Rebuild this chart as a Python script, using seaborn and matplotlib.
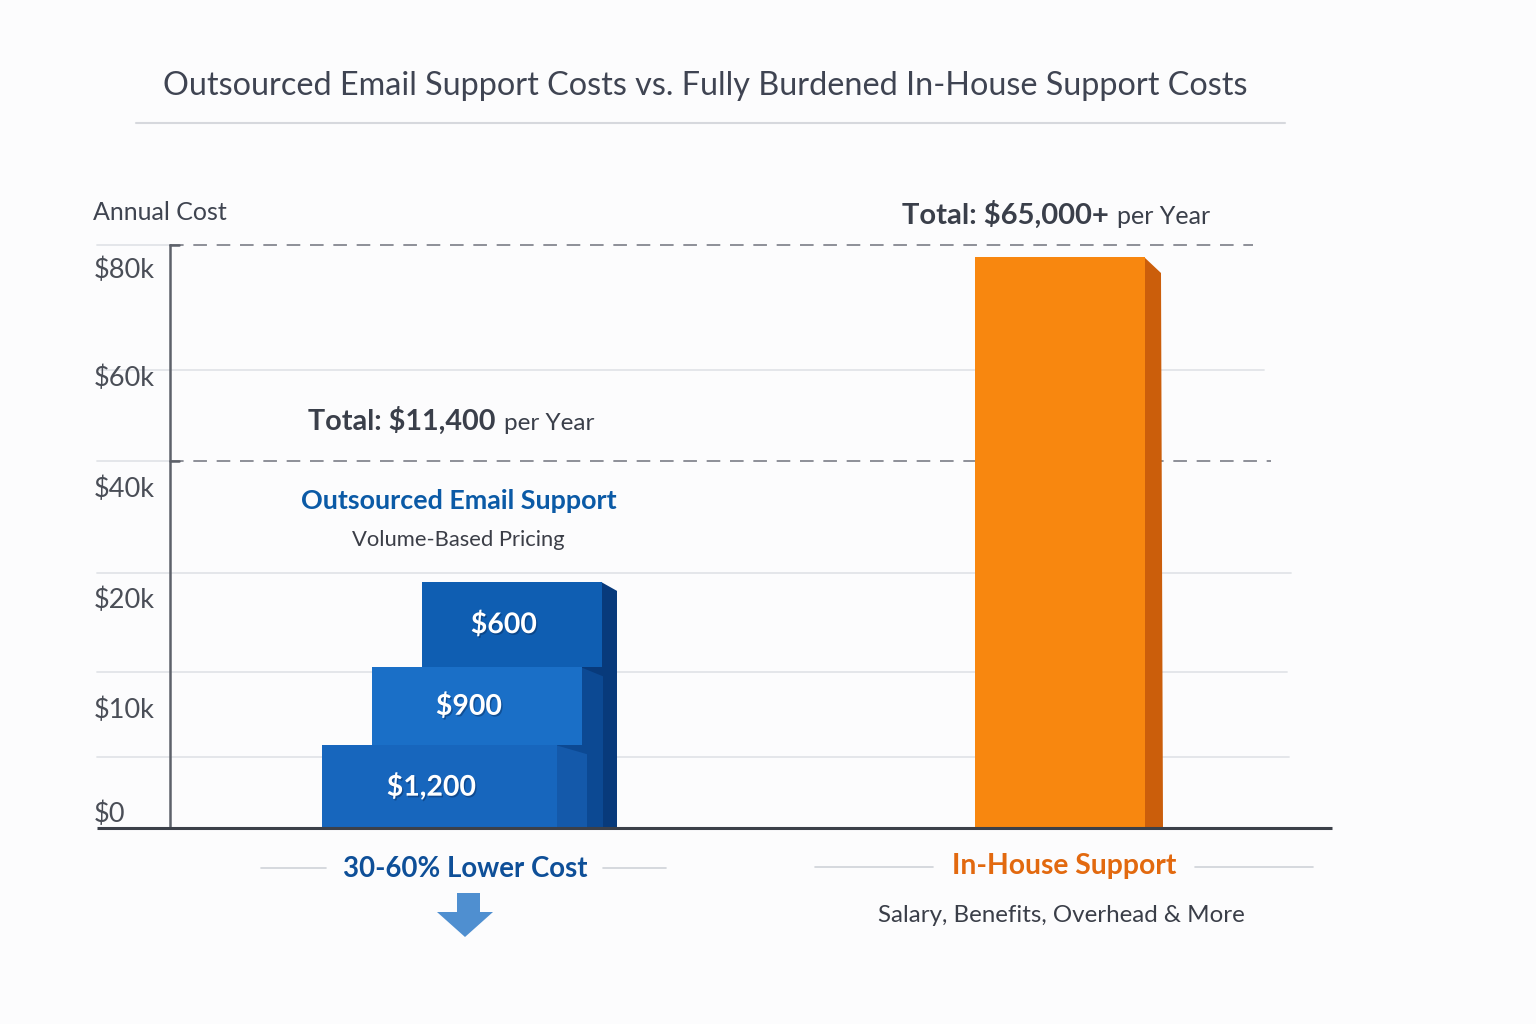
import numpy as np
import matplotlib
matplotlib.use("Agg")
import matplotlib.pyplot as plt
import seaborn as sns
from matplotlib.patches import Polygon, Rectangle
from matplotlib import transforms
import matplotlib.patheffects as pe

# ---------------- data ----------------
title = "Outsourced Email Support Costs vs. Fully Burdened In-House Support Costs"
y_axis_title = "Annual Cost"
tick_k = [0, 10, 20, 40, 60, 80]
tick_labels = ["$0", "$10k", "$20k", "$40k", "$60k", "$80k"]
grid_solid_k = [5.9, 13.3, 24.5, 61.1]
grid_dashed_k = [44.7, 84.2]
blue_tier_labels = ["$1,200", "$900", "$600"]
blue_tier_k = [6.9, 6.8, 9.2]
inhouse_k = [82.0]
outsourced_total = ["Total: $11,400", "per Year"]
inhouse_total = ["Total: $65,000+", "per Year"]
outsourced_name = "Outsourced Email Support"
outsourced_sub = "Volume-Based Pricing"
outsourced_badge = "30-60% Lower Cost"
inhouse_name = "In-House Support"
inhouse_sub = "Salary, Benefits, Overhead & More"

# ---------------- style ----------------
sns.set_theme(style="white")
plt.rcParams["font.family"] = ["Lato", "DejaVu Sans"]

W, H = 1536, 1024
fig = plt.figure(figsize=(W / 100, H / 100), dpi=100, facecolor="#fcfcfd")

AX_L, AX_R, AX_T, AX_B = 170, 1330, 245, 828
ax = fig.add_axes([AX_L / W, 1 - AX_B / H, (AX_R - AX_L) / W, (AX_B - AX_T) / H])
ax.set_facecolor("none")

# non-linear value axis as drawn in the infographic
anchor_k = np.array([-1000, 0, 10, 20, 40, 60, 80, 100, 1000])
anchor_v = np.array([-12000, 0, 120, 230, 341, 452, 560, 670, 670 + 900 * 5.5])


def fwd(v):
    return np.interp(v, anchor_k, anchor_v)


def inv(p):
    return np.interp(p, anchor_v, anchor_k)


ax.set_yscale("function", functions=(fwd, inv))
ax.set_xlim(AX_L, AX_R)
ax.set_ylim(0, float(inv(AX_B - AX_T)))

# grid lines
grid_solid_right = [1289, 1287, 1291, 1264]
grid_dashed_right = [1271, 1253]
for k, xr in zip(grid_solid_k, grid_solid_right):
    ax.plot([97, xr], [k, k], color="#e2e4e8", lw=1.3, clip_on=False, zorder=0)
for k, xr in zip(grid_dashed_k, grid_dashed_right):
    ax.plot([AX_L, xr], [k, k], color="#8d9098", lw=1.4, dashes=(7, 5),
            clip_on=False, zorder=1)
    ax.plot([97, AX_L], [k, k], color="#e2e4e8", lw=1.3, clip_on=False, zorder=0)
    ax.plot([AX_L, AX_L + 9], [k, k], color="#5d616a", lw=1.8, clip_on=False, zorder=2)

# spines / ticks
sns.despine(ax=ax, top=True, right=True, bottom=True, left=False)
ax.spines["left"].set_color("#5d616a")
ax.spines["left"].set_linewidth(1.8)
ax.set_xticks([])
ax.set_yticks(tick_k, tick_labels)
ax.tick_params(axis="y", length=0, pad=76 * 0.72, labelsize=19.5, labelcolor="#4a4e57")
for lbl in ax.get_yticklabels():
    lbl.set_ha("left")
zero_lbl = ax.get_yticklabels()[0]
zero_lbl.set_transform(zero_lbl.get_transform()
                       + transforms.ScaledTranslation(0, 16 / 100, fig.dpi_scale_trans))

# baseline
ax.plot([97, 1332], [0, 0], color="#3c4049", lw=2.2, clip_on=False, zorder=6,
        solid_capstyle="butt")

# ---------------- outsourced stacked tiers ----------------
tier_left = [322, 372, 422]
tier_right = [557, 582, 602]
tier_depth = [30, 21, 15]
tier_front = ["#1766bd", "#1a6fc7", "#0f5eb2"]
tier_side = ["#1459aa", "#0c4993", "#083a7b"]
tops = np.cumsum(blue_tier_k)
bottoms = tops - np.array(blue_tier_k)

# shadowed columns behind the upper tiers
for i in [2, 1]:
    x0 = tier_right[i - 1] - 2
    x1 = tier_right[i] + tier_depth[i]
    ax.add_patch(Rectangle((x0, 0), x1 - x0, bottoms[i], facecolor=tier_side[i],
                           edgecolor="none", zorder=1.5))

for i in [2, 1, 0]:
    xr, d, top = tier_right[i], tier_depth[i], tops[i]
    slant = float(inv(fwd(top) - 9))
    ax.add_patch(Polygon([(xr - 1, 0), (xr - 1, top), (xr + d, slant), (xr + d, 0)],
                         closed=True, facecolor=tier_side[i], edgecolor="none", zorder=2))

ax.bar(tier_left, blue_tier_k,
       width=[r - l for l, r in zip(tier_left, tier_right)],
       bottom=bottoms, align="edge", color=tier_front, edgecolor="none", zorder=3)

for i, lab in enumerate(blue_tier_labels):
    yc = float(inv((fwd(bottoms[i]) + fwd(tops[i])) / 2))
    ax.text((tier_left[i] + tier_right[i]) / 2 - 8, yc, lab, ha="center", va="center",
            color="white", fontsize=20.5, fontweight="bold", zorder=5,
            path_effects=[pe.withSimplePatchShadow(offset=(1, -1.2), shadow_rgbFace="#062a5a",
                                                   alpha=0.45)])

# ---------------- in-house bar ----------------
ax.bar([975], inhouse_k, width=170, align="edge", color="#f8870f", edgecolor="none", zorder=3)
top = inhouse_k[0]
ax.add_patch(Polygon([(1144, 0), (1144, top), (1161, float(inv(fwd(top) - 16))), (1163, 0)],
                     closed=True, facecolor="#cb5e0b", edgecolor="none", zorder=2))

# ---------------- overlay for annotations ----------------
ov = fig.add_axes([0, 0, 1, 1])
ov.set_xlim(0, W)
ov.set_ylim(H, 0)
ov.axis("off")
ov.set_zorder(10)

ov.text(705, 86, title, ha="center", va="center", fontsize=23.3, color="#3f4452")
ov.plot([136, 1285], [123, 123], color="#d6d8dd", lw=1.5)

ov.text(93, 212, y_axis_title, ha="left", va="center", fontsize=18, color="#3f4450")

renderer = fig.canvas.get_renderer()


def two_part(x, y, parts, bsize, rsize, color):
    t1 = ov.text(x, y, parts[0], ha="left", va="baseline", fontsize=bsize,
                 fontweight="bold", color=color)
    bb = t1.get_window_extent(renderer)
    ov.text(bb.x1 + 8, y, parts[1], ha="left", va="baseline", fontsize=rsize, color=color)


two_part(308, 430, outsourced_total, 20.7, 17.5, "#3a3f4a")
two_part(902, 224, inhouse_total, 21, 18, "#3a3f4a")

ov.text(459, 501, outsourced_name, ha="center", va="center", fontsize=19.4,
        fontweight="bold", color="#0b5aa6")
ov.text(458, 540, outsourced_sub, ha="center", va="center", fontsize=15.8, color="#3b3e47")

ov.text(465, 869, outsourced_badge, ha="center", va="center", fontsize=19.9,
        fontweight="bold", color="#0e4f98")
ov.plot([261, 326], [868, 868], color="#cfd2d8", lw=1.2)
ov.plot([603, 666], [868, 868], color="#cfd2d8", lw=1.2)
ov.add_patch(Polygon([(457, 893), (480, 893), (480, 912), (493, 912), (465, 937),
                      (437, 912), (457, 912)], closed=True, facecolor="#4f8fd0",
                     edgecolor="none"))

ov.text(1064, 866, inhouse_name, ha="center", va="center", fontsize=20.3,
        fontweight="bold", color="#e2690f")
ov.plot([815, 933], [867, 867], color="#cfd2d8", lw=1.2)
ov.plot([1195, 1313], [867, 867], color="#cfd2d8", lw=1.2)
ov.text(1061, 916, inhouse_sub, ha="center", va="center", fontsize=17.4, color="#3a3e48")

fig.savefig("out.png", dpi=100, facecolor=fig.get_facecolor())
